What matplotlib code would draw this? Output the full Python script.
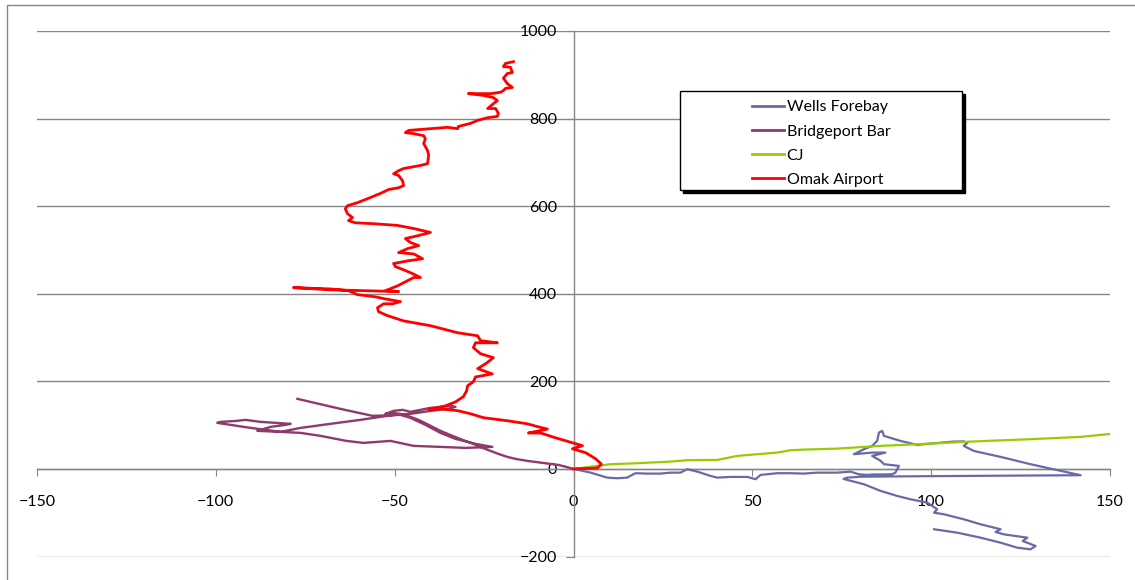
import matplotlib
matplotlib.use("Agg")
import matplotlib.pyplot as plt
import matplotlib.transforms as mtransforms
from matplotlib.patches import Rectangle
from matplotlib.lines import Line2D

# series
series_names = ["Wells Forebay", "Bridgeport Bar", "CJ", "Omak Airport"]
series_colors = ["#6A6AA5", "#8F3A6B", "#99CC00", "#FF0000"]

wells_x = [0, 4.8, 9.4, 12.2, 15.0, 17.3, 20.6, 24.3, 27.1, 29.9, 31.8, 34.6, 38.3, 40.2,
           43.9, 48.6, 50.9, 52.3, 57.0, 60.7, 64.4, 68.1, 73.7, 77.5, 79.7, 81.9, 83.9,
           87.2, 89.1, 90.0, 91.0, 86.8, 85.9, 83.5, 87.2, 83.6, 78.4, 81.2, 83.5, 84.9,
           85.4, 86.3, 86.8, 91.4, 96.1, 99.8, 106.3, 109.1, 110.1, 109.1, 111.9, 120.3,
           127.8, 141.8, 119.4, 97.0, 80.3, 76.5, 75.5, 81.2, 85.9, 90.5, 94.2, 98.9,
           101.7, 100.8, 103.6, 109.1, 113.8, 119.4, 118.0, 120.3, 126.9, 125.6, 129.2,
           127.8, 124.1, 119.4, 113.8, 107.3, 100.8]
wells_y = [0, -8.5, -19.9, -21.3, -19.9, -9.8, -10.7, -10.7, -8.5, -8.5, -0.7, -6.2, -16.0,
           -19.9, -18.3, -18.3, -23.5, -13.7, -9.8, -9.8, -10.7, -8.5, -8.5, -6.2, -12.1,
           -13.7, -12.6, -12.6, -12.1, -8.5, 6.9, 10.7, 18.3, 29.7, 37.3, 37.3, 33.6, 45.0,
           52.6, 64.0, 83.0, 86.9, 75.4, 64.0, 54.9, 57.8, 62.4, 62.9, 59.4, 52.6, 41.1,
           25.8, 10.7, -14.4, -15.5, -16.7, -17.8, -19.9, -22.9, -35.0, -50.3, -61.7,
           -69.3, -77.0, -92.1, -99.9, -103.6, -115.0, -126.4, -137.8, -144.0, -149.3,
           -157.0, -164.6, -176.0, -183.6, -179.9, -168.5, -157.0, -145.6, -137.8]

bridge_x = [0, -2.0, -4.2, -6.4, -9.2, -12.9, -16.2, -18.5, -21.0, -23.2, -25.4, -28.0,
            -31.0, -33.8, -37.2, -40.5, -43.3, -45.6, -48.4, -50.6, -52.6, -50.3, -47.8,
            -45.6, -42.8, -40.0, -37.2, -34.4, -33.0, -35.0, -40.0, -45.6, -49.8, -52.0,
            -59.6, -68.0, -76.3, -81.9, -88.4, -84.7, -80.5, -79.1, -83.3, -87.5, -91.7,
            -94.2, -98.7, -99.6, -95.9, -90.3, -86.1, -81.9, -76.3, -70.7, -63.5, -58.7,
            -51.2, -44.7, -37.2, -30.2, -22.7, -27.4, -33.0, -37.2, -41.4, -45.6, -48.4,
            -56.2, -65.2, -77.2]
bridge_y = [0, 4.6, 9.1, 11.4, 14.4, 18.3, 22.9, 27.4, 34.3, 41.1, 48.0, 57.2, 66.3, 75.4,
            86.9, 100.6, 112.0, 118.9, 125.7, 128.0, 125.7, 132.6, 134.9, 130.3, 134.9,
            139.4, 141.7, 144.0, 141.7, 137.2, 132.6, 125.7, 123.4, 121.2, 112.0, 102.9,
            93.7, 84.6, 86.9, 96.0, 100.6, 102.9, 105.2, 107.4, 112.0, 109.7, 107.4, 105.2,
            100.6, 93.7, 89.2, 84.6, 82.3, 75.4, 64.0, 59.4, 64.0, 52.6, 50.3, 48.0, 50.3,
            57.2, 68.6, 82.3, 100.6, 116.6, 123.4, 121.2, 137.2, 160.0]

cj_x = [0, 10.3, 17.8, 27.1, 31.8, 40.2, 42.0, 45.8, 51.4, 57.0, 60.7, 64.4, 73.7, 85.9,
        99.8, 111.0, 127.8, 141.8, 150.2]
cj_y = [0, 10.7, 13.0, 16.7, 19.9, 20.6, 23.5, 29.7, 33.6, 37.3, 42.7, 44.1, 46.4, 52.6,
        57.8, 62.4, 67.9, 73.2, 80.0]

omak_x = [0, 6.7, 7.8, 6.2, 3.4, -0.3, 2.5, 0.0, -5.0, -9.2,
          -12.6, -7.3, -9.8, -12.9, -18.5, -25.2, -28.8, -32.4, -37.2, -40.5,
          -35.8, -33.0, -30.8, -29.9, -29.6, -28.0, -27.4, -22.7, -26.8, -24.6,
          -22.4, -26.0, -28.0, -27.4, -21.3, -26.0, -26.8, -32.4, -40.0, -47.5,
          -52.0, -54.5, -54.8, -53.1, -50.6, -48.4, -53.1, -55.4, -60.4, -62.9,
          -68.0, -78.3, -68.0, -48.9, -52.6, -49.2, -46.4, -44.7, -42.8, -45.0,
          -47.0, -49.8, -50.3, -46.4, -42.2, -44.7, -48.9, -46.4, -43.3, -45.6,
          -47.0, -43.3, -40.0, -44.7, -49.2, -55.9, -61.0, -62.9, -61.8, -63.2,
          -63.8, -63.2, -60.4, -57.6, -54.0, -51.7, -48.9, -47.5, -47.8, -48.9,
          -50.3, -48.9, -47.5, -46.1, -42.8, -40.8, -40.5, -40.8, -41.9, -41.4,
          -41.9, -45.0, -47.0, -46.1, -40.0, -35.2, -32.4, -32.2, -28.8, -26.8,
          -24.0, -21.3, -21.0, -21.8, -24.0, -22.4, -21.3, -22.4, -25.2, -29.4,
          -23.2, -20.4, -19.6, -19.0, -17.1, -18.5, -19.6, -18.5, -17.1, -17.6,
          -19.6, -19.0, -16.8]
omak_y = [0, 2, 11, 23, 37, 46, 53, 59, 71, 82,
          82, 91, 96, 103, 110, 117, 126, 133, 137, 135,
          144, 153, 165, 178, 190, 199, 210, 217, 229, 240,
          254, 263, 277, 288, 288, 293, 304, 311, 327, 338,
          350, 359, 368, 377, 377, 382, 389, 393, 398, 407,
          411, 414, 409, 405, 407, 418, 430, 437, 437, 446,
          453, 462, 469, 475, 480, 491, 494, 503, 510, 517,
          526, 533, 540, 549, 556, 560, 562, 567, 574, 583,
          594, 601, 608, 617, 629, 638, 642, 647, 658, 670,
          674, 681, 686, 688, 693, 697, 716, 727, 743, 754,
          761, 766, 768, 773, 777, 780, 777, 782, 789, 796,
          802, 805, 812, 823, 823, 834, 841, 848, 853, 857,
          857, 860, 864, 869, 871, 880, 892, 903, 905, 917,
          919, 926, 930]

x_ticks = [-150, -100, -50, 0, 50, 100, 150]
y_ticks = [-200, 0, 200, 400, 600, 800, 1000]

plt.rcParams['font.family'] = ['Lato', 'DejaVu Sans']
grey = "#868686"

fig = plt.figure(figsize=(11.35, 5.8), dpi=100)
ax = fig.add_axes([37 / 1135, 23.5 / 580, 1073 / 1135, 525.5 / 580])

data = [(wells_x, wells_y, 1.6), (bridge_x, bridge_y, 1.7),
        (cj_x, cj_y, 1.6), (omak_x, omak_y, 2.0)]
for (xs, ys, lw), color in zip(data, series_colors):
    ax.plot(xs, ys, color=color, lw=lw, solid_joinstyle='round', zorder=3)

ax.set_xlim(-150, 150)
ax.set_ylim(-200, 1000)
ax.set_xticks(x_ticks)
ax.set_yticks(y_ticks)
ax.yaxis.grid(True, color=grey, lw=1)
for gl in ax.get_ygridlines():
    gl.set_clip_on(False)
    gl.set_antialiased(False)
ax.set_axisbelow(True)

for side in ["top", "right"]:
    ax.spines[side].set_visible(False)
ax.spines["left"].set_position(("data", 0))
ax.spines["bottom"].set_position(("data", 0))
for side in ["left", "bottom"]:
    ax.spines[side].set_color(grey)
    ax.spines[side].set_linewidth(1)

ax.tick_params(axis='x', direction='out', length=5, color=grey, pad=14, labelsize=11.5)
ax.tick_params(axis='y', direction='out', length=6, color=grey, pad=6, labelsize=11.5)

# legend box with a hard shadow, like the spreadsheet one
box = (0.599, 0.697, 0.263, 0.189)
shadow_tr = ax.transAxes + mtransforms.ScaledTranslation(3 / 100, -3 / 100, fig.dpi_scale_trans)
ax.add_patch(Rectangle(box[:2], box[2], box[3], transform=shadow_tr,
                       facecolor="black", edgecolor="black", lw=1, zorder=4))
ax.add_patch(Rectangle(box[:2], box[2], box[3], transform=ax.transAxes,
                       facecolor="white", edgecolor="black", lw=1, zorder=4.1))
handles = [Line2D([], [], color=c, lw=2) for c in series_colors]
leg = ax.legend(handles, series_names, loc='center', bbox_to_anchor=(0.7307, 0.786),
                frameon=False, fontsize=11.5, handlelength=2.0, handletextpad=0.2,
                labelspacing=0.62)
leg.set_zorder(5)

# chart area border
fig.add_artist(Rectangle((7 / 1135, -0.05), 1.1, 575 / 580 + 0.05, transform=fig.transFigure,
                         fill=False, edgecolor=grey, lw=1))

fig.savefig("out.png", dpi=100)
